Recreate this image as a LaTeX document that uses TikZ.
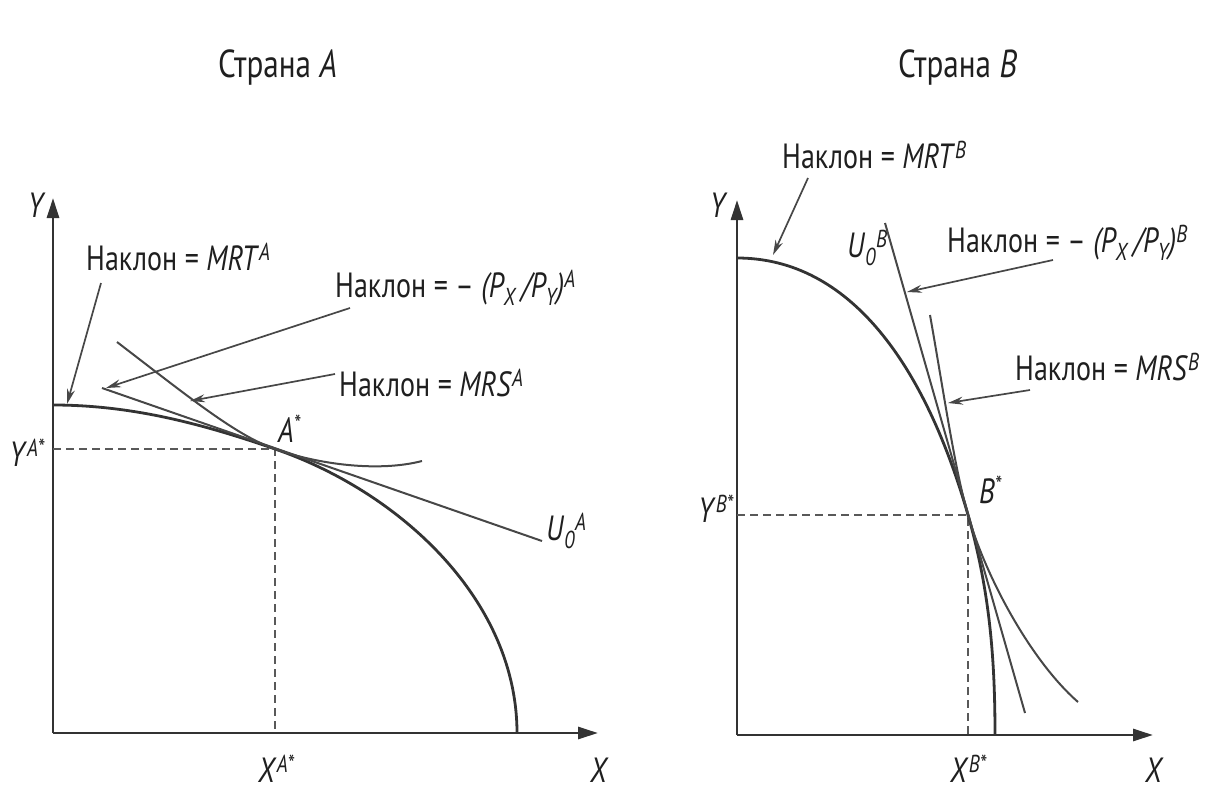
\documentclass[tikz,border=0pt]{standalone}
\usepackage{fontspec}
\setmainfont[FakeStretch=0.8]{PT Sans}
\usetikzlibrary{arrows.meta}
\newcommand{\sups}[1]{\textsuperscript{\itshape #1}}
\newcommand{\subsups}[2]{\textsubscript{\itshape #1}\textsuperscript{\itshape #2}}

\begin{document}
\begin{tikzpicture}[x=1pt,y=-1pt,
  axis/.style={line width=2.8pt,draw=black!80,-{Triangle[length=20pt,width=12pt]}},
  ppf/.style={line width=2.8pt,draw=black!80},
  crv/.style={line width=2pt,draw=black!72},
  guide/.style={line width=1.8pt,draw=black!65,dash pattern=on 8pt off 5pt},
  pointer/.style={line width=1.7pt,draw=black!72,-{Stealth[length=15pt,width=8pt]}},
  lbl/.style={inner sep=0pt,text=black!88,font=\fontsize{35}{38}\selectfont},
  title/.style={inner sep=0pt,text=black!88,font=\fontsize{39}{42}\selectfont}]
\path[use as bounding box] (0,0) rectangle (1211,790);

% Страна A
\coordinate (oA) at (53,733);
\coordinate (yA) at (53,198);
\coordinate (xA) at (598,733);
\coordinate (astar) at (275,449);
\coordinate (ppfAtop) at (53,405);
\coordinate (ppfAend) at (517,733);
\coordinate (icAstart) at (117,342);
\coordinate (icAend) at (422,461);
\coordinate (plAstart) at (102,388);
\coordinate (plAend) at (542,541);
\draw[axis] (oA) -- (yA);
\draw[axis] (oA) -- (xA);
\draw[guide] (oA |- astar) -- (astar) -- (astar |- oA);
\draw[ppf] (ppfAtop) .. controls (130,405) and (200,423) .. (astar) .. controls (400,492) and (517,600) .. (ppfAend);
\draw[crv] (plAstart) -- (plAend);
\draw[crv] (icAstart) .. controls (190,398) and (237,436) .. (astar) .. controls (320,465) and (380,472) .. (icAend);

\node[title,anchor=base west] (titleA) at (218,77) {Страна \textit{A}};
\node[lbl,anchor=base west] (yAlbl) at (28,217) {\textit{Y}};
\node[lbl,anchor=base west] (xAlbl) at (590,782) {\textit{X}};
\node[lbl,anchor=base east] (ystarA) at (45,466) {\textit{Y}\sups{A*}};
\node[lbl,anchor=base west] (xstarA) at (258,782) {\textit{X}\sups{A*}};
\node[lbl,anchor=base west] (astarlbl) at (278,442) {\textit{A}\sups{*}};
\node[lbl,anchor=base west] (uA) at (546,540) {\textit{U}\subsups{0}{A}};
\node[lbl,anchor=base west] (mrtA) at (86,270) {Наклон = \textit{MRT}\sups{A}};
\node[lbl,anchor=base west] (pxA) at (335,297) {Наклон = -- \textit{(P\textsubscript{X}\,/P\textsubscript{Y})}\sups{A}};
\node[lbl,anchor=base west] (mrsA) at (339,396) {Наклон = \textit{MRS}\sups{A}};

\coordinate (mrtAtip) at (67,404);
\coordinate (pxAtip) at (106,388);
\coordinate (mrsAtip) at (190,401);
\draw[pointer] ([xshift=15pt,yshift=-13pt]mrtA.base west) -- (mrtAtip);
\draw[pointer] ([xshift=15pt,yshift=-11pt]pxA.base west) -- (pxAtip);
\draw[pointer] ([xshift=-4pt,yshift=22pt]mrsA.base west) -- (mrsAtip);

% Страна B
\coordinate (oB) at (737,735);
\coordinate (yB) at (737,200);
\coordinate (xB) at (1153,735);
\coordinate (bstar) at (968,515);
\coordinate (ppfBtop) at (737,258);
\coordinate (ppfBend) at (995,735);
\coordinate (plBstart) at (885,223);
\coordinate (plBend) at (1025,713);
\coordinate (icBstart) at (930,315);
\coordinate (icBend) at (1078,702);
\draw[axis] (oB) -- (yB);
\draw[axis] (oB) -- (xB);
\draw[guide] (oB |- bstar) -- (bstar) -- (bstar |- oB);
\draw[ppf] (ppfBtop) .. controls (850,258) and (925,365) .. (bstar) .. controls (990,592) and (995,660) .. (ppfBend);
\draw[crv] (plBstart) -- (plBend);
\draw[crv] (icBstart) .. controls (945,400) and (955,470) .. (bstar) .. controls (985,575) and (1030,660) .. (icBend);

\node[title,anchor=base west] (titleB) at (898,77) {Страна \textit{B}};
\node[lbl,anchor=base west] (yBlbl) at (710,217) {\textit{Y}};
\node[lbl,anchor=base west] (xBlbl) at (1145,782) {\textit{X}};
\node[lbl,anchor=base east] (ystarB) at (734,522) {\textit{Y}\sups{B*}};
\node[lbl,anchor=base west] (xstarB) at (950,782) {\textit{X}\sups{B*}};
\node[lbl,anchor=base west] (bstarlbl) at (979,503) {\textit{B}\sups{*}};
\node[lbl,anchor=base west] (uB) at (847,257) {\textit{U}\subsups{0}{B}};
\node[lbl,anchor=base west] (mrtB) at (782,168) {Наклон = \textit{MRT}\sups{B}};
\node[lbl,anchor=base west] (pxB) at (947,252) {Наклон = -- \textit{(P\textsubscript{X}\,/P\textsubscript{Y})}\sups{B}};
\node[lbl,anchor=base west] (mrsB) at (1015,380) {Наклон = \textit{MRS}\sups{B}};

\coordinate (mrtBtip) at (773,255);
\coordinate (pxBtip) at (907,292);
\coordinate (mrsBtip) at (948,403);
\draw[pointer] ([xshift=26pt,yshift=-10pt]mrtB.base west) -- (mrtBtip);
\draw[pointer] ([xshift=106pt,yshift=-8pt]pxB.base west) -- (pxBtip);
\draw[pointer] ([xshift=15pt,yshift=-10pt]mrsB.base west) -- (mrsBtip);
\end{tikzpicture}
\end{document}
